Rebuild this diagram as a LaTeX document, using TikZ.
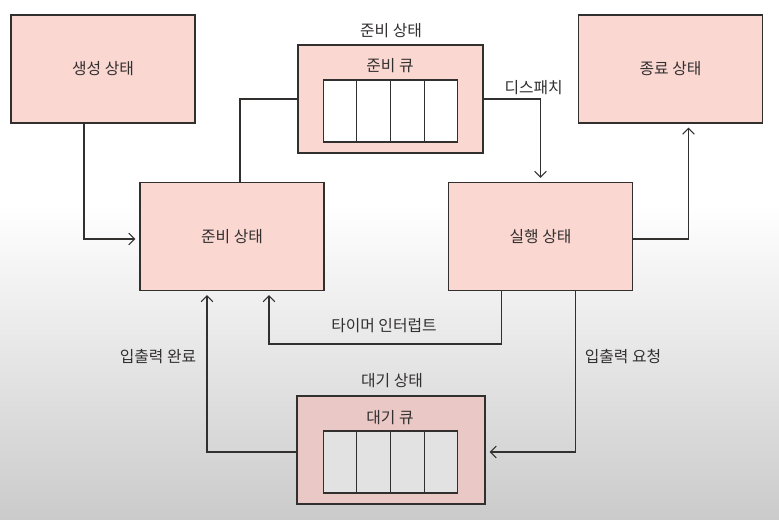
\documentclass[tikz,border=0pt]{standalone}
\usepackage{fontspec}
\newfontfamily\krfont{Noto Sans CJK KR}
\usetikzlibrary{arrows.meta,calc,positioning}
\definecolor{StatePink}{RGB}{250,215,209}
\definecolor{WaitPink}{RGB}{233,200,197}
\definecolor{InkGray}{RGB}{50,47,47}
\definecolor{FloorGray}{RGB}{203,203,203}
\definecolor{CellGray}{RGB}{226,226,226}

\begin{document}
\begin{tikzpicture}[x=0.03cm,y=-0.03cm,>={Straight Barb[length=5pt,width=10pt]},
  every node/.style={font=\krfont\fontsize{13.5}{16}\selectfont,text=InkGray},
  state/.style={draw=InkGray,line width=0.9pt,fill=StatePink,minimum width=5.52cm,minimum height=3.24cm,inner sep=0pt},
  cell/.style={draw=InkGray,line width=0.9pt,fill=white,minimum width=1.01cm,minimum height=1.86cm,inner sep=0pt},
  link/.style={draw=InkGray,line width=0.9pt},
  flow/.style={link,->,shorten >=3.5pt}]
      % backdrop
      \useasboundingbox (0,0) rectangle (779,519);
      \fill[white] (0,0) rectangle (779,205);
      \shade[top color=white,bottom color=FloorGray] (0,204) rectangle (779,519);
      % states
      \node[state] (new) at (103,69) {생성 상태};
      \node[state] (ready) at (232,236.5) {준비 상태};
      \node[state] (run) at (540.5,236.5) {실행 상태};
      \node[state] (done) at (670.5,69) {종료 상태};
      % ready queue
      \node[state,minimum width=5.55cm] (rq) at (390.5,99) {};
      \node (rqtitle) at (391,31) {준비 상태};
      \node (rqname) at (390,66) {준비 큐};
      \foreach \i in {1,...,4}
        \node[cell] (rq\i) at ({323+33.75*(\i-0.5)},111) {};
      % waiting queue
      \node[state,fill=WaitPink,minimum width=5.64cm] (wq) at (391,450) {};
      \node (wqtitle) at (392,381) {대기 상태};
      \node (wqname) at (390,418) {대기 큐};
      \foreach \i in {1,...,4}
        \node[cell,fill=CellGray] (wq\i) at ({323+33.75*(\i-0.5)},462) {};
      % transitions
      \draw[flow] ($(new.south)+(-19,0)$) |- ($(ready.west)+(0,2.5)$);
      \draw[link] ($(ready.north)+(8,0)$) |- (rq.west);
      \draw[flow] (rq.east) -| (run.north) node[pos=0.44,above] (dispatch) {디스패치};
      \draw[flow] ($(run.east)+(0,2.5)$) -| ($(done.south)+(18,0)$);
      \coordinate (tbend) at (269,344);
      \draw[flow] ($(run.south)+(-39,0)$) |- (tbend) -- (tbend |- ready.south);
      \node (timer) at (384,326) {타이머 인터럽트};
      \draw[flow] ($(run.south)+(35,0)$) |- ($(wq.east)+(0,2)$);
      \node (ioreq) at (623,357) {입출력 요청};
      \draw[flow] ($(wq.west)+(0,2)$) -| ($(ready.south)+(-25,0)$);
      \node (iodone) at (158,357) {입출력 완료};
    \end{tikzpicture}
\end{document}
